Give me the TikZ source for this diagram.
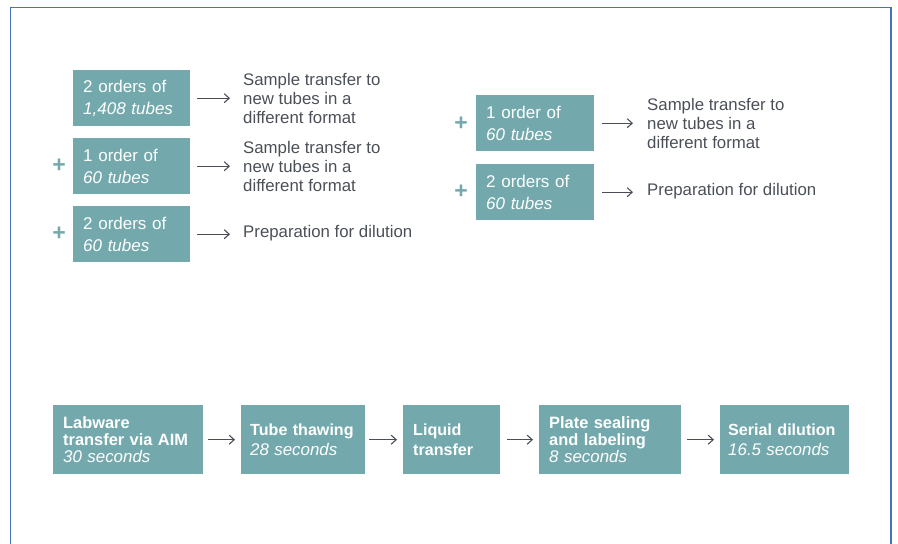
\documentclass[tikz,border=0pt]{standalone}
\usepackage{fontspec}
\setmainfont{Liberation Sans}
\usetikzlibrary{arrows.meta}
\definecolor{tealbox}{HTML}{73A9AD}
\definecolor{txtgray}{HTML}{4B5058}
\definecolor{frameblue}{HTML}{4A6FC0}
\begin{document}
\begin{tikzpicture}[x=1bp,y=-1bp,
  box/.style={fill=tealbox, draw=none, inner sep=0pt, text=white, align=left, anchor=north west},
  topbox/.style={box, minimum width=117bp, minimum height=56bp, text width=97bp,
    font=\fontsize{17bp}{22bp}\selectfont},
  botbox/.style={box, minimum height=69bp, font=\bfseries\fontsize{16.4bp}{16.7bp}\selectfont},
  twoline/.style={font=\bfseries\fontsize{16.1bp}{19.7bp}\selectfont},
  lab/.style={text=txtgray, align=left, anchor=west, inner sep=0pt,
    font=\fontsize{16.8bp}{19.3bp}\selectfont},
  arr/.style={draw=txtgray, line width=1.1bp, -{Straight Barb[length=5bp,width=9bp,line width=1.1bp]}},
  plussign/.style={text=tealbox, inner sep=0pt, font=\bfseries\fontsize{23bp}{23bp}\selectfont}
]
\newcommand{\tmtext}[1]{{\normalfont\itshape\fontsize{16.9bp}{16.7bp}\selectfont #1}}
\useasboundingbox (0,0) rectangle (898,544);
\draw[frameblue, line width=1.2bp] (10.5,544) -- (10.5,7.5) -- (891,7.5) -- (891,544);

% left column
\node[topbox] (a1) at (73,70) {2 orders of\\\textit{1,408 tubes}};
\node[topbox] (a2) at (73,138) {1 order of\\\textit{60 tubes}};
\node[topbox] (a3) at (73,206) {2 orders of\\\textit{60 tubes}};
\node[lab] (la1) at (243,98.5) {Sample transfer to\\new tubes in a\\different format};
\node[lab] (la2) at (243,166.5) {Sample transfer to\\new tubes in a\\different format};
\node[lab] (la3) at (243,233.5) {Preparation for dilution};
\node[plussign] (pa2) at (59,166) {+};
\node[plussign] (pa3) at (59,234) {+};
\draw[arr] ([xshift=7bp]a1.east) -- ([xshift=-13bp]a1.east -| la1.west);
\draw[arr] ([xshift=7bp]a2.east) -- ([xshift=-13bp]a2.east -| la2.west);
\draw[arr] ([xshift=7bp]a3.east) -- ([xshift=-13bp]a3.east -| la3.west);

% right column
\node[topbox, minimum width=118bp, text width=98bp] (b1) at (476,95) {1 order of\\\textit{60 tubes}};
\node[topbox, minimum width=118bp, text width=98bp] (b2) at (476,164) {2 orders of\\\textit{60 tubes}};
\node[lab] (lb1) at (647,123.5) {Sample transfer to\\new tubes in a\\different format};
\node[lab] (lb2) at (647,191.5) {Preparation for dilution};
\node[plussign] (pb1) at (461,124) {+};
\node[plussign] (pb2) at (461,192) {+};
\draw[arr] ([xshift=8bp]b1.east) -- ([xshift=-14bp]b1.east -| lb1.west);
\draw[arr] ([xshift=8bp]b2.east) -- ([xshift=-14bp]b2.east -| lb2.west);

% bottom row
\node[botbox, minimum width=150bp, text width=130bp] (c1) at (53,405) {Labware\\transfer via AIM\\\tmtext{30 seconds}};
\node[botbox, twoline, minimum width=124bp, text width=106bp] (c2) at (241,405) {\mbox{Tube thawing}\\\tmtext{28 seconds}};
\node[botbox, twoline, minimum width=97bp, text width=77bp] (c3) at (403,405) {Liquid\\transfer};
\node[botbox, minimum width=142bp, text width=122bp] (c4) at (539,405) {Plate sealing\\and labeling\\\tmtext{8 seconds}};
\node[botbox, twoline, minimum width=129bp, text width=113bp] (c5) at (720,405) {\mbox{Serial dilution}\\\tmtext{16.5 seconds}};
\draw[arr] ([xshift=5bp]c1.east) -- ([xshift=-6bp]c2.west);
\draw[arr] ([xshift=4bp]c2.east) -- ([xshift=-6bp]c3.west);
\draw[arr] ([xshift=7bp]c3.east) -- ([xshift=-6bp]c4.west);
\draw[arr] ([xshift=6bp]c4.east) -- ([xshift=-6bp]c5.west);
\end{tikzpicture}
\end{document}
